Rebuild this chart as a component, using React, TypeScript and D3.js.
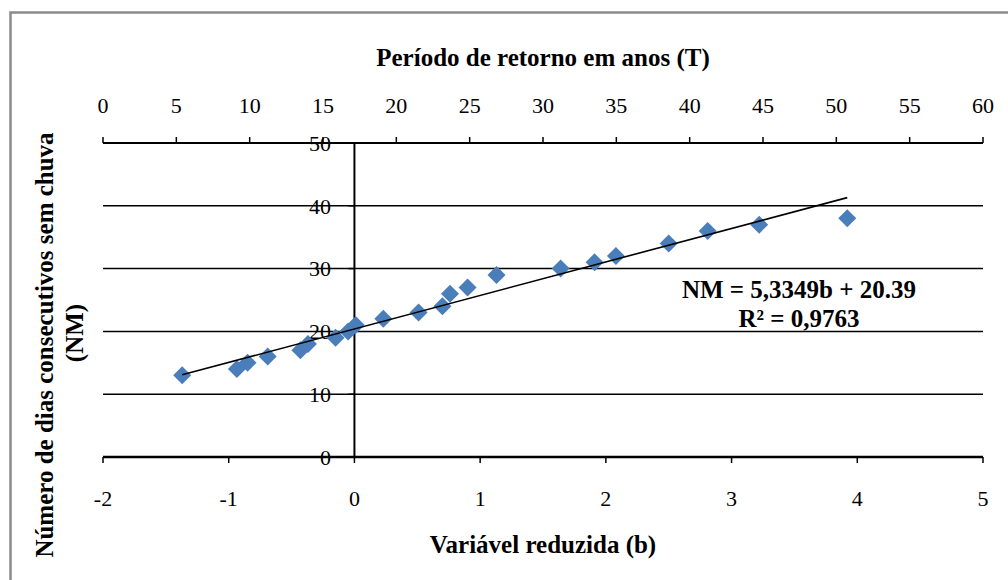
import React from "react";
import * as d3 from "d3";

const bValues = [-1.37, -0.935, -0.85, -0.69, -0.43, -0.37, -0.15, -0.05, 0.01, 0.23, 0.51, 0.7, 0.76, 0.9, 1.13, 1.64, 1.91, 2.08, 2.5, 2.81, 3.22, 3.92];
const nmValues = [13, 14, 15, 16, 17, 18, 19, 20, 21, 22, 23, 24, 26, 27, 29, 30, 31, 32, 34, 36, 37, 38];
const bTicks = [-2, -1, 0, 1, 2, 3, 4, 5];
const tTicks = [0, 5, 10, 15, 20, 25, 30, 35, 40, 45, 50, 55, 60];
const nmTicks = [0, 10, 20, 30, 40, 50];
const slope = 5.3349;
const intercept = 20.39;
const eqLabel = "NM = 5,3349b + 20.39";
const r2Label = "R² = 0,9763";
const topTitle = "Período de retorno em anos (T)";
const bottomTitle = "Variável reduzida (b)";
const yTitle1 = "Número de dias consecutivos sem chuva";
const yTitle2 = "(NM)";

export default function App() {
  const x = d3.scaleLinear().domain([-2, 5]).range([103, 983]);
  const xT = d3.scaleLinear().domain([0, 60]).range([103, 983]);
  const y = d3.scaleLinear().domain([0, 50]).range([457, 143]);
  const bMin = d3.min(bValues)!;
  const bMax = d3.max(bValues)!;
  const trend = d3.line<number>().x((b) => x(b)).y((b) => y(slope * b + intercept))([bMin, bMax]);
  const diamond = (cx: number, cy: number, r: number) =>
    `M${cx},${cy - r}L${cx + r},${cy}L${cx},${cy + r}L${cx - r},${cy}Z`;
  const ts: React.CSSProperties = { fontFamily: "Liberation Serif" };
  return (
    <svg width={1008} height={580} style={{ position: "absolute", left: 0, top: 0, background: "#fff" }}>
      <rect x={10.5} y={12.5} width={1200} height={800} fill="#fff" stroke="#8a8a8a" strokeWidth={2.5} />
      {nmTicks.filter((t) => t > 0 && t < 50).map((t) => (
        <line key={"g" + t} x1={x(-2)} x2={x(5)} y1={y(t)} y2={y(t)} stroke="#000" strokeWidth={1.5} />
      ))}
      <line x1={xT(0)} x2={xT(60)} y1={y(50)} y2={y(50)} stroke="#000" strokeWidth={2} />
      {tTicks.map((t) => (
        <g key={"t" + t}>
          <line x1={xT(t)} x2={xT(t)} y1={y(50)} y2={y(50) - 6} stroke="#000" strokeWidth={1.5} />
          <text style={ts} x={xT(t)} y={113} textAnchor="middle" fontSize={22}>{t}</text>
        </g>
      ))}
      <text style={ts} x={543} y={66} textAnchor="middle" fontSize={25} fontWeight="bold">{topTitle}</text>
      <line x1={x(-2)} x2={x(5)} y1={y(0)} y2={y(0)} stroke="#000" strokeWidth={2.5} />
      {bTicks.map((t) => (
        <g key={"b" + t}>
          <line x1={x(t)} x2={x(t)} y1={y(0)} y2={y(0) + 6} stroke="#000" strokeWidth={1.5} />
          <text style={ts} x={x(t)} y={506} textAnchor="middle" fontSize={22}>{t}</text>
        </g>
      ))}
      <text style={ts} x={543} y={553} textAnchor="middle" fontSize={25} fontWeight="bold">{bottomTitle}</text>
      <line x1={x(0)} x2={x(0)} y1={y(0)} y2={y(50)} stroke="#000" strokeWidth={2} />
      {nmTicks.map((t) => (
        <g key={"y" + t}>
          <line x1={x(0) - 6} x2={x(0)} y1={y(t)} y2={y(t)} stroke="#000" strokeWidth={1.5} />
          <text style={ts} x={331} y={y(t)} dy="0.35em" textAnchor="end" fontSize={22}>{t}</text>
        </g>
      ))}
      <text style={ts} transform={`translate(53,345) rotate(-90)`} textAnchor="middle" fontSize={25} fontWeight="bold">{yTitle1}</text>
      <text style={ts} transform={`translate(83,333) rotate(-90)`} textAnchor="middle" fontSize={25} fontWeight="bold">{yTitle2}</text>
      {bValues.map((b, i) => (
        <path key={"p" + i} d={diamond(x(b), y(nmValues[i]), 9)} fill="#4a7ebb" />
      ))}
      <path d={trend ?? ""} fill="none" stroke="#000" strokeWidth={1.6} />
      <text style={ts} x={799} y={298} textAnchor="middle" fontSize={25} fontWeight="bold">{eqLabel}</text>
      <text style={ts} x={799} y={327} textAnchor="middle" fontSize={25} fontWeight="bold">{r2Label}</text>
    </svg>
  );
}
